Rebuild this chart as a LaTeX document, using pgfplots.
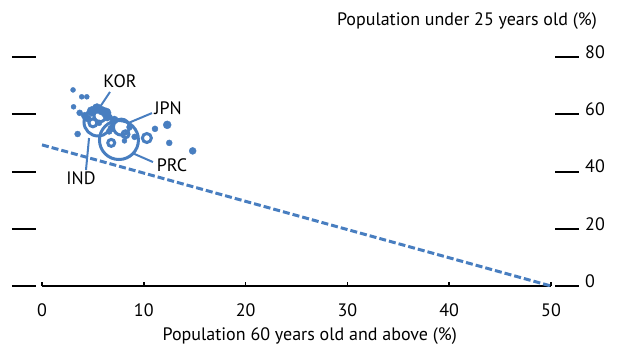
\documentclass[border=0pt]{standalone}
\usepackage{pgfplots}
\pgfplotsset{compat=1.18}
\usepackage{fontspec}
\setmainfont{PT Sans}
\definecolor{bubble}{RGB}{72,126,192}
\newcommand{\fs}{\fontsize{18pt}{21pt}\selectfont}
\begin{document}
\fs
\begin{tikzpicture}
\useasboundingbox (-42pt,-59pt) rectangle (578pt,286pt);
\begin{axis}[
  at={(0,0)}, anchor=south west,
  scale only axis, width=509pt, height=229pt,
  xmin=0, xmax=50, ymin=0, ymax=80,
  clip=false,
  axis x line*=bottom, axis y line*=right,
  x axis line style={line width=2.5pt, black},
  y axis line style={draw=none},
  xtick={0,10,...,50}, ytick={0,20,...,80},
  tick align=inside, major tick length=4pt,
  xtick style={line width=1.5pt, black},
  ytick style={draw=none},
  /pgf/number format/assume math mode=true,
  xticklabel style={font=\fs, yshift=-11pt},
  yticklabel style={font=\fs, anchor=west, inner sep=0pt, xshift=34pt, yshift=5pt},
  xlabel={Population 60 years old and above (\%)},
  xlabel style={font=\fs, at={(axis description cs:0.526,0)}, anchor=center, yshift=-50pt},
]
\pgfplotsinvokeforeach{0,20,40,60,80}{
  \draw[line width=2pt, black] ([xshift=-30pt]axis cs:0,#1) -- ([xshift=-6pt]axis cs:0,#1);
  \draw[line width=2pt, black] ([xshift=4pt]axis cs:50,#1) -- ([xshift=28pt]axis cs:50,#1);
}
% dashed line
\addplot[bubble, line width=3pt, dash pattern=on 7pt off 3pt] coordinates {(0,49.3) (50,0)};
% filled bubbles
\addplot[scatter, only marks, mark=*, point meta=\thisrow{r},
  scatter/use mapped color={draw=bubble, fill=bubble},
  visualization depends on={\thisrow{r} \as \rr},
  scatter/@pre marker code/.append style={/tikz/mark size=\rr}]
  table[x=x, y=y] {
x y r
3.05 68.5 2.5
3.9 66.1 2.5
4.4 66.1 2.5
3.1 62.6 2.5
3.7 60.5 3
3.5 53.1 3
11.1 54.9 3
12.3 56.3 4
12.5 50.0 3
14.8 47.2 3.5
8.1 50.7 2.5
9.1 52.1 3
4.9 61.0 5
5.4 62.0 5
5.9 61.2 4.5
4.5 58.5 3.5
6.4 59.0 4
5.6 57.0 3
6.8 55.0 3.5
7.1 58.0 4
6.6 54.0 3
8.6 55.5 3
6.3 60.5 5
4.2 59.5 3.5
};
% rings
\addplot[scatter, only marks, mark=o, line width=3pt, point meta=\thisrow{r},
  mark options={line width=3pt},
  scatter/use mapped color={draw=bubble},
  visualization depends on={\thisrow{r} \as \rr},
  scatter/@pre marker code/.append style={/tikz/mark size=\rr}]
  table[x=x, y=y] {
x y r
5.5 57.3 14
7.56 51.0 19.5
7.8 55.5 8
5.7 59.5 6
6.8 50.0 3.5
10.3 51.7 4.5
8.2 53.0 3.5
5.0 57.0 4
};
% leaders
\draw[bubble, line width=2pt] (axis cs:6.68,67.8) -- (axis cs:5.5,61.5);
\draw[bubble, line width=2pt] (axis cs:10.8,60.4) -- (axis cs:8.45,56.9);
\draw[bubble, line width=2pt] (axis cs:10.9,43.3) -- (axis cs:8.84,46.5);
\draw[bubble, line width=2pt] (axis cs:4.32,40.5) -- (axis cs:4.62,51.7);
\node[font=\fs] at (axis cs:7.66,71.6) {KOR};
\node[font=\fs] at (axis cs:12.38,62.2) {JPN};
\node[font=\fs] at (axis cs:12.77,42.3) {PRC};
\node[font=\fs] at (axis cs:3.83,37.7) {IND};
\node[font=\fs, anchor=east, inner sep=0pt] at ([xshift=46pt, yshift=36pt]rel axis cs:1,1) {Population under 25 years old (\%)};
\end{axis}
\end{tikzpicture}
\end{document}
